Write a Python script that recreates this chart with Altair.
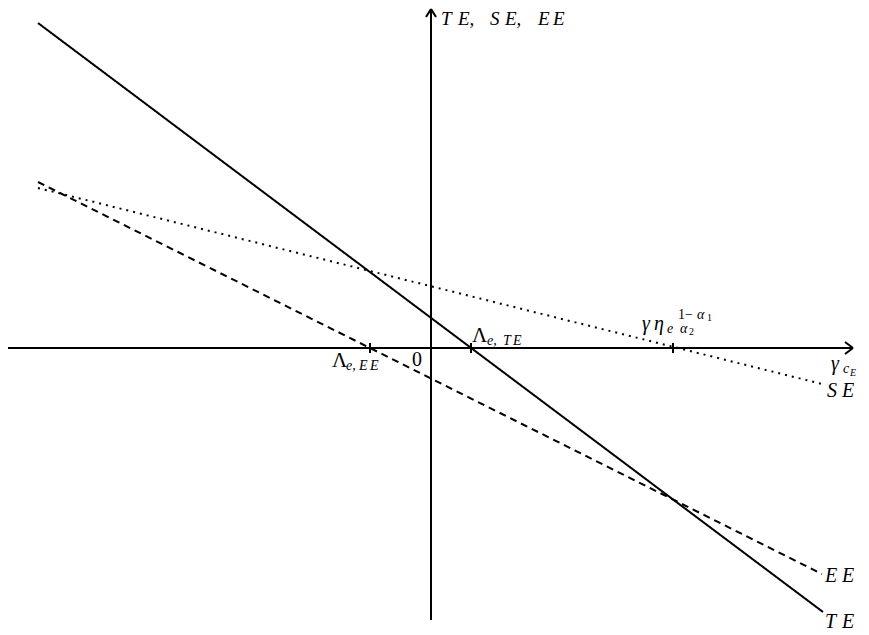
import altair as alt
import pandas as pd

# ---- data (units: arbitrary, origin at axes crossing) ----
series = ["TE", "SE", "EE"]
x_start = [-393, -393, -393]
y_start = [325, 160, 166]
x_end = [392, 391, 391]
y_end = [-264, -36, -226]

# x-intercepts marked with ticks: Λe,EE , Λe,TE , γη_e^(...)
tick_x = [-61, 40, 242]

x_axis_range = [-423, 422]
y_axis_range = [-272, 339]

X_DOMAIN = [-423, 430]
Y_DOMAIN = [-279, 334]

xs = alt.Scale(domain=X_DOMAIN, nice=False, zero=False)
ys = alt.Scale(domain=Y_DOMAIN, nice=False, zero=False)

FONT = "Liberation Serif"

# ---- curves ----
rows = []
for s, x0, y0, x1, y1 in zip(series, x_start, y_start, x_end, y_end):
    rows.append({"series": s, "x": x0, "y": y0})
    rows.append({"series": s, "x": x1, "y": y1})
lines_df = pd.DataFrame(rows)

lines = alt.Chart(lines_df).mark_line(color="black", strokeWidth=2, strokeCap="butt").encode(
    x=alt.X("x:Q", scale=xs, axis=None),
    y=alt.Y("y:Q", scale=ys, axis=None),
    detail="series:N",
    strokeDash=alt.StrokeDash(
        "series:N",
        scale=alt.Scale(domain=["TE", "SE", "EE"], range=[[1, 0], [2, 5], [7, 5]]),
        legend=None,
    ),
)

# ---- axes with arrows and ticks ----
seg = []
seg.append({"x": x_axis_range[0], "y": 0, "x2": x_axis_range[1], "y2": 0})
seg.append({"x": 0, "y": y_axis_range[0], "x2": 0, "y2": y_axis_range[1]})
ax, ay = x_axis_range[1], y_axis_range[1]
seg.append({"x": ax - 8, "y": 6, "x2": ax, "y2": 0})
seg.append({"x": ax - 8, "y": -6, "x2": ax, "y2": 0})
seg.append({"x": -5, "y": ay - 8, "x2": 0, "y2": ay})
seg.append({"x": 5, "y": ay - 8, "x2": 0, "y2": ay})
for t in tick_x:
    seg.append({"x": t, "y": -5, "x2": t, "y2": 5})
seg_df = pd.DataFrame(seg)

axes = alt.Chart(seg_df).mark_rule(color="black", strokeWidth=2).encode(
    x=alt.X("x:Q", scale=xs, axis=None),
    y=alt.Y("y:Q", scale=ys, axis=None),
    x2="x2:Q",
    y2="y2:Q",
)

# ---- labels (annotation layout) ----
italic_labels = pd.DataFrame([
    {"x": 10, "y": 323, "t": "T", "s": 19},
    {"x": 27, "y": 323, "t": "E,", "s": 19},
    {"x": 59, "y": 323, "t": "S", "s": 19},
    {"x": 74, "y": 323, "t": "E,", "s": 19},
    {"x": 107, "y": 323, "t": "E", "s": 19},
    {"x": 122, "y": 323, "t": "E", "s": 19},
    {"x": 56, "y": 3, "t": "e,", "s": 14},
    {"x": 72, "y": 3, "t": "T", "s": 14},
    {"x": 82, "y": 3, "t": "E", "s": 14},
    {"x": -85, "y": -22, "t": "e,", "s": 14},
    {"x": -72, "y": -22, "t": "E", "s": 14},
    {"x": -61, "y": -22, "t": "E", "s": 14},
    {"x": 211, "y": 18, "t": "γ", "s": 20},
    {"x": 223, "y": 18, "t": "η", "s": 20},
    {"x": 236, "y": 15, "t": "e", "s": 14},
    {"x": 266, "y": 29, "t": "α", "s": 14},
    {"x": 249, "y": 15, "t": "α", "s": 14},
    {"x": 400, "y": -22, "t": "γ", "s": 20},
    {"x": 412, "y": -25, "t": "c", "s": 14},
    {"x": 419, "y": -28, "t": "E", "s": 10},
    {"x": 396, "y": -49, "t": "S", "s": 20},
    {"x": 411, "y": -49, "t": "E", "s": 20},
    {"x": 394, "y": -234, "t": "E", "s": 20},
    {"x": 411, "y": -234, "t": "E", "s": 20},
    {"x": 394, "y": -280, "t": "T", "s": 20},
    {"x": 411, "y": -280, "t": "E", "s": 20},
])

upright_labels = pd.DataFrame([
    {"x": 41, "y": 6, "t": "Λ", "s": 21},
    {"x": -99, "y": -19, "t": "Λ", "s": 21},
    {"x": -19, "y": -18, "t": "0", "s": 20},
    {"x": 247, "y": 29, "t": "1", "s": 14},
    {"x": 254, "y": 29, "t": "−", "s": 14},
    {"x": 276, "y": 27, "t": "1", "s": 10},
    {"x": 258, "y": 13, "t": "2", "s": 10},
])


def text_layer(df, style):
    return alt.Chart(df).mark_text(
        align="left", baseline="alphabetic", font=FONT,
        fontStyle=style, color="black",
    ).encode(
        x=alt.X("x:Q", scale=xs, axis=None),
        y=alt.Y("y:Q", scale=ys, axis=None),
        text="t:N",
        size=alt.Size("s:Q", scale=None, legend=None),
    )


chart = alt.layer(
    axes, lines, text_layer(italic_labels, "italic"), text_layer(upright_labels, "normal")
).properties(
    width=853,
    height=613,
    autosize=alt.AutoSizeParams(type="none"),
    padding={"left": 0, "top": 6, "right": 0, "bottom": 8},
    background="white",
).configure_view(stroke=None)

chart.save("out.html", embed_options={"renderer": "svg", "actions": False})
